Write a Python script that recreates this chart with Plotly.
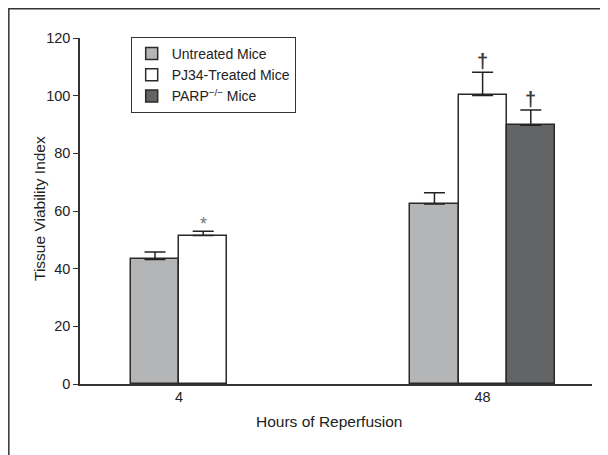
import plotly.graph_objects as go

# ---- data ----
categories = ["4", "48"]                      # hours of reperfusion
series_names = ["Untreated Mice", "PJ34-Treated Mice", "PARP<sup>−/−</sup> Mice"]
untreated = [43.2, 62.4]
untreated_err = [2.6, 3.9]
pj34 = [51.5, 100.1]
pj34_err = [1.5, 8.0]
parp = [None, 89.7]
parp_err = [None, 5.3]
markers = [["", ""], ["*", "†"], ["", "†"]]   # significance symbols per series / category

values = [untreated, pj34, parp]
errors = [untreated_err, pj34_err, parp_err]
colors = ["#b4b5b7", "#ffffff", "#636466"]

FONT = "Liberation Sans, Arial, Helvetica, sans-serif"
TXT = "#222222"
bw = 0.1587  # bar width in x-axis units

fig = go.Figure()
annotations = []
for s, (name, vals, errs, col) in enumerate(zip(series_names, values, errors, colors)):
    xs, ys, es = [], [], []
    for g, cat in enumerate(categories):
        present = [k for k in range(len(values)) if values[k][g] is not None]
        if vals[g] is None:
            continue
        n = len(present)
        idx = present.index(s)
        xpos = g + (idx - (n - 1) / 2) * bw
        xs.append(xpos)
        ys.append(vals[g])
        es.append(errs[g])
        sym = markers[s][g]
        if sym:
            dag = sym == "†"
            annotations.append(dict(
                x=xpos, y=vals[g] + errs[g], xref="x", yref="y",
                text=sym, showarrow=False, yanchor="middle",
                yshift=11 if dag else 7,
                font=dict(family=FONT, size=20 if dag else 18,
                          color="#3a3a3a" if dag else "#777777",
                          weight="bold" if dag else "normal"),
            ))

    fig.add_trace(go.Bar(
        x=xs, y=ys, width=bw, name=name,
        marker=dict(color=col, line=dict(color="#2a2a2a", width=1.5)),
        error_y=dict(type="data", symmetric=False, array=es,
                     arrayminus=[0] * len(es), color="#222222",
                     thickness=1.5, width=10.5),
    ))

# axis titles placed as annotations for exact positioning
annotations.append(dict(
    x=0.486, y=0, xref="paper", yref="paper", text="Hours of Reperfusion",
    showarrow=False, xanchor="center", yanchor="middle", yshift=-37,
    font=dict(family=FONT, size=15.5, color=TXT),
))
annotations.append(dict(
    x=0, y=0.5058, xref="paper", yref="paper", text="Tissue Viability Index",
    showarrow=False, xanchor="center", yanchor="middle", xshift=-40, textangle=-90,
    font=dict(family=FONT, size=15.5, color=TXT),
))

# outer frame around the figure
frame = [dict(
    type="rect", xref="paper", yref="paper",
    x0=-0.139, x1=1.3, y0=-0.4, y1=1.0846,
    line=dict(color="#333333", width=1.5), fillcolor="rgba(0,0,0,0)", layer="below",
)]

fig.update_layout(
    width=600, height=447,
    margin=dict(l=72, r=16, t=30, b=71),
    paper_bgcolor="white", plot_bgcolor="white",
    font=dict(family=FONT, color=TXT, size=14),
    showlegend=True,
    legend=dict(
        x=0.099, y=1.003, xanchor="left", yanchor="top",
        bgcolor="white", bordercolor="#333333", borderwidth=1,
        font=dict(family=FONT, size=14, color=TXT),
        itemwidth=30, tracegroupgap=0,
    ),
    bargap=0, annotations=annotations, shapes=frame,
)
fig.update_xaxes(
    range=[-0.3265, 1.3604], tickvals=list(range(len(categories))), ticktext=categories,
    showline=True, linecolor="#333333", linewidth=2, showgrid=False, zeroline=False,
    ticks="", ticklabelstandoff=-1, tickfont=dict(family=FONT, size=14.5, color=TXT),
)
fig.update_yaxes(
    range=[0, 120], tickvals=[0, 20, 40, 60, 80, 100, 120],
    showline=True, linecolor="#333333", linewidth=1.5, showgrid=False, zeroline=False,
    ticks="outside", ticklen=5, tickwidth=1.2, tickcolor="#333333",
    tickfont=dict(family=FONT, size=14.5, color=TXT),
)

fig.write_html("out.html")
